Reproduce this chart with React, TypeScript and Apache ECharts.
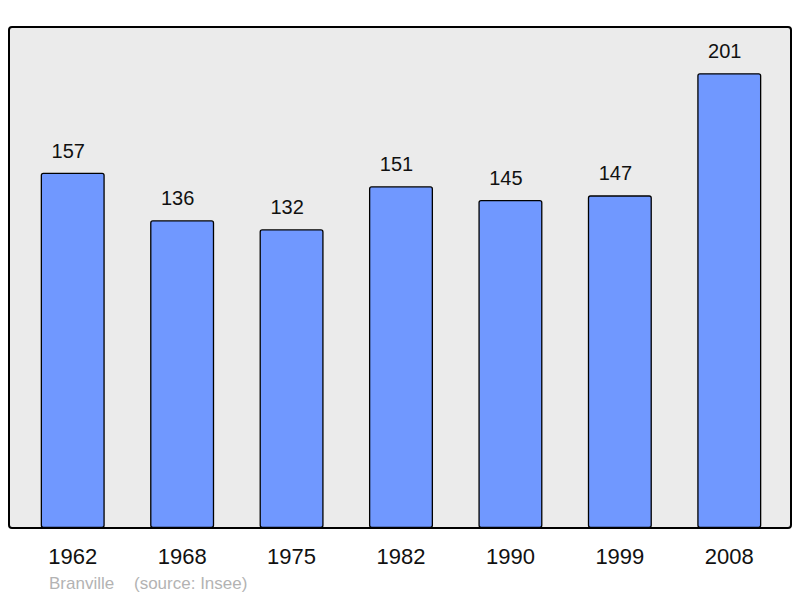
import React, { useEffect, useRef } from "react";
import * as echarts from "echarts";

const years = ["1962", "1968", "1975", "1982", "1990", "1999", "2008"];
const population = [157, 136, 132, 151, 145, 147, 201];
const footerName = "Branville";
const footerSource = "(source: Insee)";

export default function App() {
  const ref = useRef<HTMLDivElement>(null);
  useEffect(() => {
    if (!ref.current) return;
    const chart = echarts.init(ref.current, undefined, { renderer: "svg" });
    const font = "'Liberation Sans', Arial, sans-serif";
    chart.setOption({
      animation: false,
      textStyle: { fontFamily: font },
      graphic: [
        {
          type: "rect",
          z: -10,
          silent: true,
          shape: { x: 9, y: 27, width: 782, height: 501, r: 3 },
          style: { fill: "#ebebeb", stroke: "#000", lineWidth: 2 },
        },
        {
          type: "text",
          left: 49,
          top: 575,
          style: { text: footerName, fill: "#b3b3b3", fontSize: 17, fontFamily: font },
        },
        {
          type: "text",
          left: 134,
          top: 575,
          style: { text: footerSource, fill: "#b3b3b3", fontSize: 17, fontFamily: font },
        },
      ],
      grid: { left: 18, right: 16, top: 27, bottom: 70, containLabel: false },
      xAxis: {
        type: "category",
        data: years,
        axisLine: { show: false },
        axisTick: { show: false },
        axisLabel: { color: "#111", fontSize: 22, margin: 17, fontFamily: font },
      },
      yAxis: {
        type: "value",
        min: 0,
        max: 221.4,
        show: false,
        splitLine: { show: false },
      },
      series: [
        {
          type: "bar",
          data: population,
          barWidth: "58.5%",
          itemStyle: { color: "#7098ff", borderColor: "#000", borderWidth: 1.3, borderRadius: 2 },
          label: {
            show: true,
            position: "top",
            distance: 12,
            offset: [-4.5, 0],
            color: "#111",
            fontSize: 20,
            fontFamily: font,
          },
        },
      ],
    });
    return () => chart.dispose();
  }, []);
  return (
    <div
      ref={ref}
      style={{ position: "fixed", left: 0, top: 0, width: 800, height: 598, background: "#fff" }}
    />
  );
}
